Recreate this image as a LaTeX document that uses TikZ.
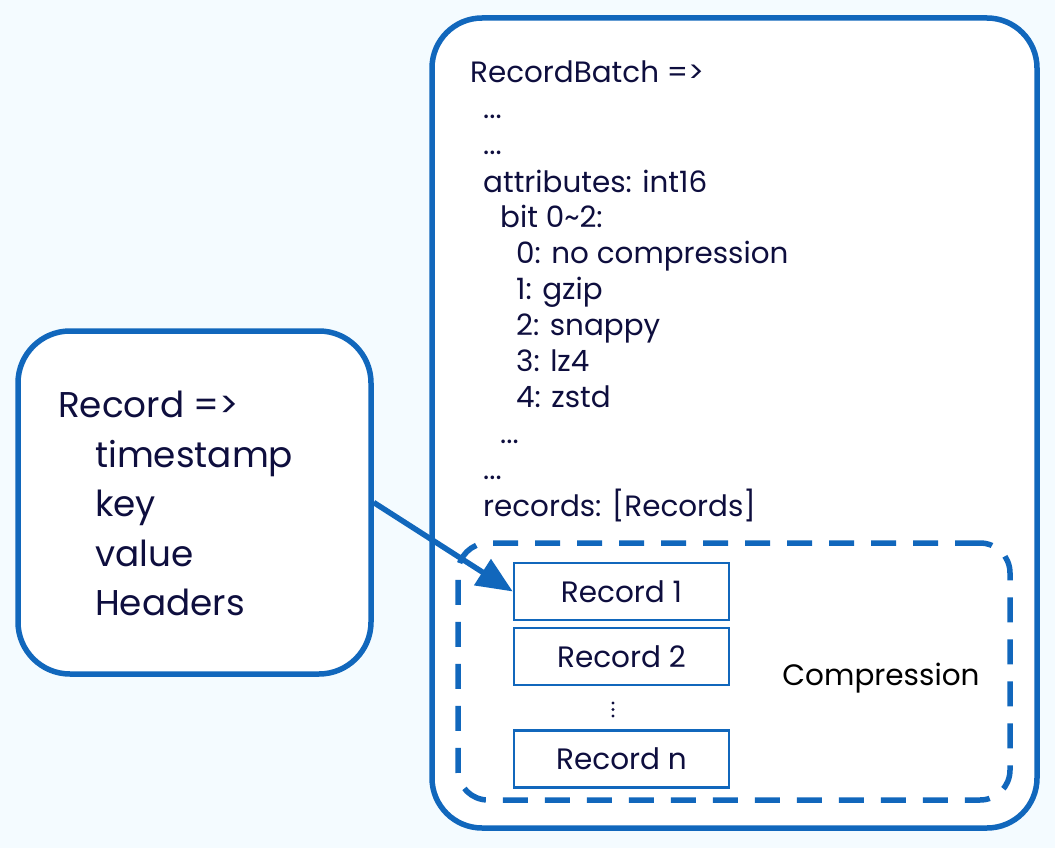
\documentclass[tikz,border=0pt]{standalone}
\usepackage{fontspec}
\setmainfont{Poppins}
\usetikzlibrary{arrows.meta}
\definecolor{bgc}{HTML}{F4FBFF}
\definecolor{blu}{HTML}{1167BC}
\definecolor{navy}{HTML}{0E0E3E}
\tikzset{
  panel/.style={draw=blu, line width=5.5pt, fill=white, rounded corners=#1, inner sep=0pt},
  dashpanel/.style={draw=blu, line width=5.5pt, dash pattern=on 25pt off 17pt, rounded corners=30pt, inner sep=0pt},
  recbox/.style={draw=blu, line width=2.5pt, fill=white, minimum width=215pt, minimum height=57pt, inner sep=0pt, text=navy, font=\fontsize{29.5}{34}\selectfont},
  bline/.style={anchor=base west, inner sep=0pt, text=navy, font=\fontsize{29.4}{35}\selectfont},
  lline/.style={anchor=base west, inner sep=0pt, text=navy, font=\fontsize{35.8}{42}\selectfont},
  conn/.style={draw=blu, line width=5.5pt, -{Triangle[length=36pt,width=30pt]}},
}
\begin{document}
\begin{tikzpicture}[x=1pt,y=-1pt]
\useasboundingbox[fill=bgc] (0,0) rectangle (1055,848);
% boxes
\node[panel=50pt, minimum width=605pt, minimum height=810pt] (batch) at (734.5,423) {};
\node[panel=52pt, minimum width=353pt, minimum height=343pt] (rec) at (194.5,502.5) {};
\node[dashpanel, minimum width=552pt, minimum height=257pt] (comp) at (734,671.5) {};
% batch text
\node[bline] (t1) at (470,83) {RecordBatch =>};
\node[bline] (t2) at (483,119) {...};
\node[bline] (t3) at (483,155) {...};
\node[bline] (t4) at (483,192) {attributes: int16};
\node[bline] (t5) at (500,227) {bit 0\char"7E 2:};
\node[bline] (t6) at (516,263) {0: no compression};
\node[bline] (t7) at (516,299) {1: gzip};
\node[bline] (t8) at (516,335) {2: snappy};
\node[bline] (t9) at (516,371) {3: lz4};
\node[bline] (t10) at (516,407) {4: zstd};
\node[bline] (t11) at (500,443) {...};
\node[bline] (t12) at (483,479) {...};
\node[bline] (t13) at (483,516) {records: [Records]};
% record text
\node[lline] (l1) at (58,417) {Record =>};
\node[lline] (l2) at (95,467) {timestamp};
\node[lline] (l3) at (95,516) {key};
\node[lline] (l4) at (95,566) {value};
\node[lline] (l5) at (95,615) {Headers};
% records
\node[recbox] (r1) at (621.5,591.5) {Record 1};
\node[recbox] (r2) at (621.5,656.5) {Record 2};
\node[recbox] (rn) at (621.5,759) {Record n};
\fill[navy] (613,703) circle (1.6pt) (613,709.5) circle (1.6pt) (613,716) circle (1.6pt);
\node[anchor=base, inner sep=0pt, text=black, font=\fontsize{29.5}{34}\selectfont] (cl) at (881,685) {Compression};
% connector
\draw[conn] (rec.east) -- (r1.west);
\end{tikzpicture}
\end{document}
